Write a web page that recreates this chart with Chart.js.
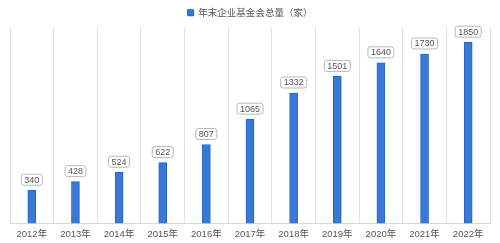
<!DOCTYPE html>
<html>
<head>
<meta charset="utf-8">
<script src="https://cdn.jsdelivr.net/npm/chart.js@4/dist/chart.umd.min.js"></script>
<style>
  html, body { margin: 0; padding: 0; background: #fff; }
  #wrap { width: 500px; height: 243px; }
</style>
</head>
<body>
<div id="wrap"><canvas id="fundChart"></canvas></div>
<script>
const years = ['2012年', '2013年', '2014年', '2015年', '2016年', '2017年', '2018年', '2019年', '2020年', '2021年', '2022年'];
const totals = [340, 428, 524, 622, 807, 1065, 1332, 1501, 1640, 1730, 1850];
const seriesName = '年末企业基金会总量（家）';

// 柱顶数值框
const valueBoxes = {
    id: 'valueBoxes',
    afterDatasetsDraw(chart) {
        const ctx = chart.ctx;
        const meta = chart.getDatasetMeta(0);
        ctx.save();
        ctx.font = '9px "Liberation Sans", Arial, sans-serif';
        ctx.textAlign = 'center';
        ctx.textBaseline = 'middle';
        meta.data.forEach((bar, i) => {
            const text = String(chart.data.datasets[0].data[i]);
            const w = ctx.measureText(text).width + 6;
            const h = 11;
            const x = bar.x - w / 2;
            const y = bar.y - 5 - h;
            ctx.beginPath();
            ctx.roundRect(x, y, w, h, 2.5);
            ctx.fillStyle = '#fff';
            ctx.fill();
            ctx.strokeStyle = '#b8b8b8';
            ctx.lineWidth = 1;
            ctx.stroke();
            ctx.fillStyle = '#555';
            ctx.fillText(text, bar.x, y + h / 2 + 0.5);
        });
        ctx.restore();
    }
};

new Chart(document.getElementById('fundChart'), {
    type: 'bar',
    data: {
        labels: years,
        datasets: [{
            label: seriesName,
            data: totals,
            backgroundColor: '#3a78d6',
            borderColor: '#1f63cf',
            borderWidth: 1,
            barThickness: 8
        }]
    },
    options: {
        responsive: true,
        maintainAspectRatio: false,
        animation: false,
        layout: { padding: { left: 10, right: 10, top: 0, bottom: -2 } },
        plugins: {
            legend: {
                labels: {
                    boxWidth: 6,
                    boxHeight: 6,
                    color: '#555',
                    font: { size: 9.5, family: '"Noto Sans CJK SC", sans-serif' },
                    padding: 8
                }
            },
            tooltip: { enabled: false }
        },
        scales: {
            x: {
                grid: { color: '#e2e2e2', drawTicks: false },
                border: { color: '#d8d8d8' },
                ticks: {
                    color: '#555',
                    padding: 5,
                    font: { size: 9.5, family: '"Liberation Sans", "Noto Sans CJK SC", sans-serif' }
                }
            },
            y: {
                display: false,
                min: 0,
                max: 2000
            }
        }
    },
    plugins: [valueBoxes]
});
</script>
</body>
</html>
